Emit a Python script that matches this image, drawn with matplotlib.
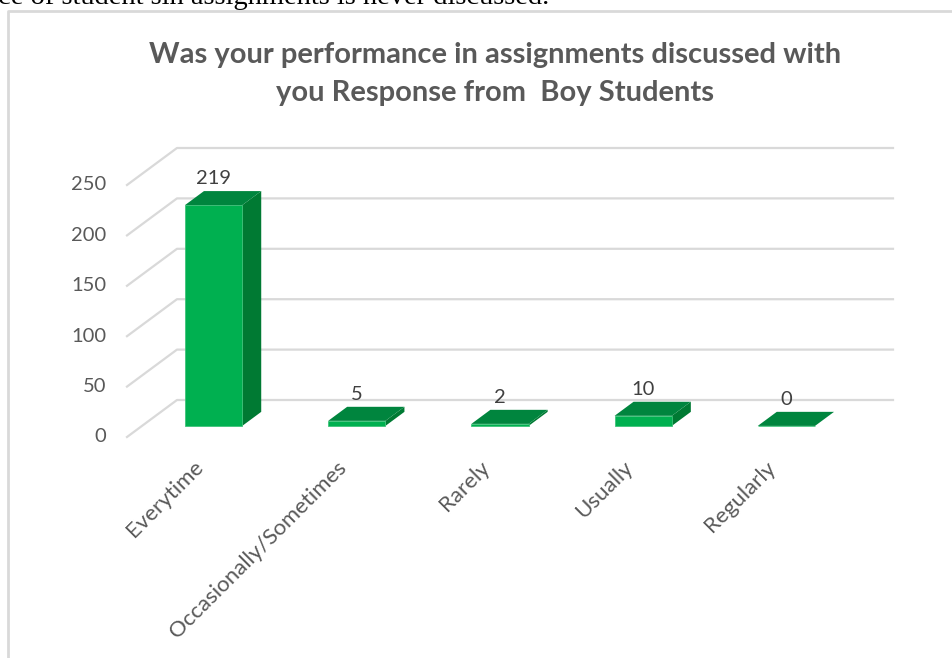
import matplotlib.pyplot as plt
from matplotlib.patches import Polygon

categories = ["Everytime", "Occasionally/Sometimes", "Rarely", "Usually", "Regularly"]
responses = [219, 5, 2, 10, 0]
yticks = [0, 50, 100, 150, 200, 250]

title = "Was your performance in assignments discussed with\nyou Response from  Boy Students"
page_text = "ce of student sin assignments is never discussed."

# colours
front_col = "#00b050"
top_col = "#00853e"
side_col = "#007a33"
grid_col = "#d9d9d9"
text_col = "#595959"

W, H = 953, 658
fig = plt.figure(figsize=(W / 100, H / 100), dpi=100)

# oblique depth of the floor (in data units) and bar placement inside it
DX, DY = 0.349, 36.7
d0, d1 = 0.30, 0.68
bw = 0.40
n = len(categories)

ax = fig.add_axes([127 / W, (H - 437) / H, (893 - 127) / W, (437 - 148) / H])
ax.set_xlim(-0.5, n - 0.5 + DX)
ax.set_ylim(0, 250 + DY)
ax.axis("off")

# gridlines: slanted on the left wall, flat on the back wall
for v in yticks:
    ax.plot([-0.5, -0.5 + DX, n - 0.5 + DX], [v, v + DY, v + DY],
            color=grid_col, lw=1.6, zorder=1, clip_on=False)
    ax.annotate(str(v), (-0.5, v), xytext=(-15, 0), textcoords="offset points",
                ha="right", va="center", fontsize=14.5, color=text_col,
                family="Lato", annotation_clip=False)

xs = [i + d0 * DX for i in range(n)]
ax.bar(xs, responses, width=bw, bottom=d0 * DY, color=front_col, zorder=3,
       edgecolor="#3fc37a", linewidth=0.6)

for i, v in enumerate(responses):
    l, r = i - bw / 2, i + bw / 2
    top = [(l + d0 * DX, v + d0 * DY), (r + d0 * DX, v + d0 * DY),
           (r + d1 * DX, v + d1 * DY), (l + d1 * DX, v + d1 * DY)]
    side = [(r + d0 * DX, d0 * DY), (r + d0 * DX, v + d0 * DY),
            (r + d1 * DX, v + d1 * DY), (r + d1 * DX, d1 * DY)]
    ax.add_patch(Polygon(side, closed=True, facecolor=side_col, edgecolor="none",
                         zorder=2, clip_on=False))
    ax.add_patch(Polygon(top, closed=True, facecolor=top_col, edgecolor="none",
                         zorder=4, clip_on=False))
    ax.annotate(str(v), (i + d0 * DX, v + d1 * DY), xytext=(0, 3),
                textcoords="offset points", ha="center", va="bottom",
                fontsize=14.5, color="#404040", family="Lato",
                annotation_clip=False)
    ax.annotate(categories[i], (i + 0.01, -27), ha="right", va="center",
                rotation=45, rotation_mode="anchor", fontsize=16,
                color=text_col, family="Lato", annotation_clip=False)

fig.text(495 / W, 1 - 74 / H, title, ha="center", va="center",
         multialignment="center", fontsize=21, fontweight="bold",
         color=text_col, family="Lato", linespacing=1.55)

# bits of the surrounding page: the cut-off sentence and the chart border
fig.text(-2 / W, 1 - 4 / H, page_text, ha="left", va="baseline",
         fontsize=20.5, family="Liberation Serif", color="black")
fig.add_artist(plt.Line2D([8 / W, 8 / W, 1.0], [0.0, 1 - 11 / H, 1 - 11 / H],
                          color=grid_col, lw=2, transform=fig.transFigure))

fig.savefig("out.png", dpi=100)
